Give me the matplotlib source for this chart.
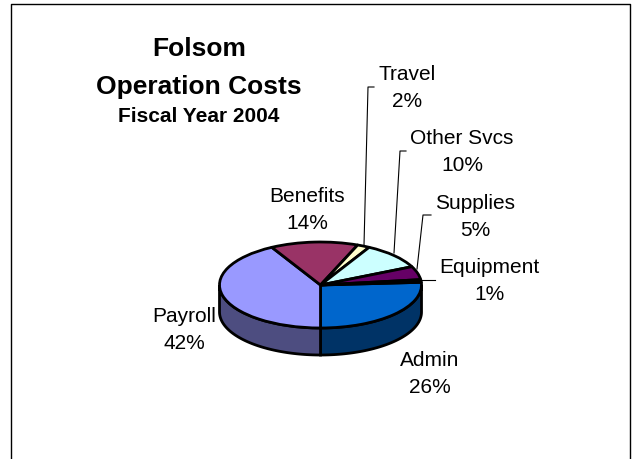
import matplotlib as mpl
mpl.use('Agg')
import matplotlib.pyplot as plt
import numpy as np

# data, clockwise from the east side of the pie
labels = ['Admin', 'Payroll', 'Benefits', 'Travel', 'Other Svcs', 'Supplies', 'Equipment']
values = [26, 42, 14, 2, 10, 5, 1]
colors = ['#0066CC', '#9999FF', '#993366', '#FFFFCC', '#CCFFFF', '#660066', '#FF8080']
side_colors = ['#003366', '#4D4D80', '#4D1A33', '#808066', '#668080', '#330033', '#804040']

plt.rcParams['font.family'] = ['Liberation Sans', 'DejaVu Sans']

W, H = 632, 460
CX, CY, RX, RY = 320.5, 286, 101, 43
DEPTH = 27 / RY
START = 3.6
LW = 2.0

fig = plt.figure(figsize=(W / 100, H / 100), dpi=100)
ax = fig.add_axes([0, 0, 1, 1])
ax.pie(values, colors=colors, startangle=START, counterclock=False,
       wedgeprops=dict(edgecolor='black', linewidth=LW, joinstyle='round', zorder=3))
ax.set_aspect('auto')
ax.set_xlim(-CX / RX, (W - CX) / RX)
ax.set_ylim((CY - H) / RY, CY / RY)
ax.axis('off')


def px(x, y):
    # reference pixel to axes data
    return (x - CX) / RX, (CY - y) / RY


# side wall of the pie, only the front half shows
ends = START - np.cumsum(values) * 3.6
starts = np.concatenate([[START], ends[:-1]])
for a, b, c in zip(starts, ends, side_colors):
    # visible range is -180..0 degrees
    hi = min(a, 0)
    lo = max(b, -180)
    if hi <= lo:
        continue
    t = np.radians(np.linspace(hi, lo, 60))
    xs = np.cos(t)
    ys = np.sin(t)
    ax.fill(np.r_[xs, xs[::-1]], np.r_[ys, ys[::-1] - DEPTH], facecolor=c,
            edgecolor='black', linewidth=LW, zorder=2)

# leader lines
leaders = [
    [(364, 246), (368, 88), (374, 88)],
    [(394, 254), (400, 152), (406, 152)],
    [(417, 270), (423, 216), (431, 216)],
    [(420, 281), (435, 281)],
]
for pts in leaders:
    xy = np.array([px(*p) for p in pts])
    ax.plot(xy[:, 0], xy[:, 1], color='black', linewidth=0.8, zorder=1)

# slice labels
label_pos = {
    'Admin': (430, 374), 'Payroll': (184, 330), 'Benefits': (307, 210),
    'Travel': (407, 88), 'Other Svcs': (462, 152), 'Supplies': (475, 217),
    'Equipment': (489, 281),
}
for name, v in zip(labels, values):
    x, y = px(*label_pos[name])
    ax.text(x, y, f'{name}\n{v}%', fontsize=15, ha='center', va='center',
            linespacing=1.5, color='black')

# title
for txt, y, size in [('Folsom', 49, 19), ('Operation Costs', 87, 19), ('Fiscal Year 2004', 116, 15)]:
    x0, y0 = px(199, y)
    ax.text(x0, y0, txt, fontsize=size, fontweight='bold', ha='center', va='center')

# chart frame, runs off the bottom of the picture
frame = np.array([px(*p) for p in [(11, 470), (11, 5), (630, 5), (630, 470)]])
ax.plot(frame[:, 0], frame[:, 1], color='black', linewidth=1.0, zorder=1)

fig.savefig('out.png', dpi=100)
